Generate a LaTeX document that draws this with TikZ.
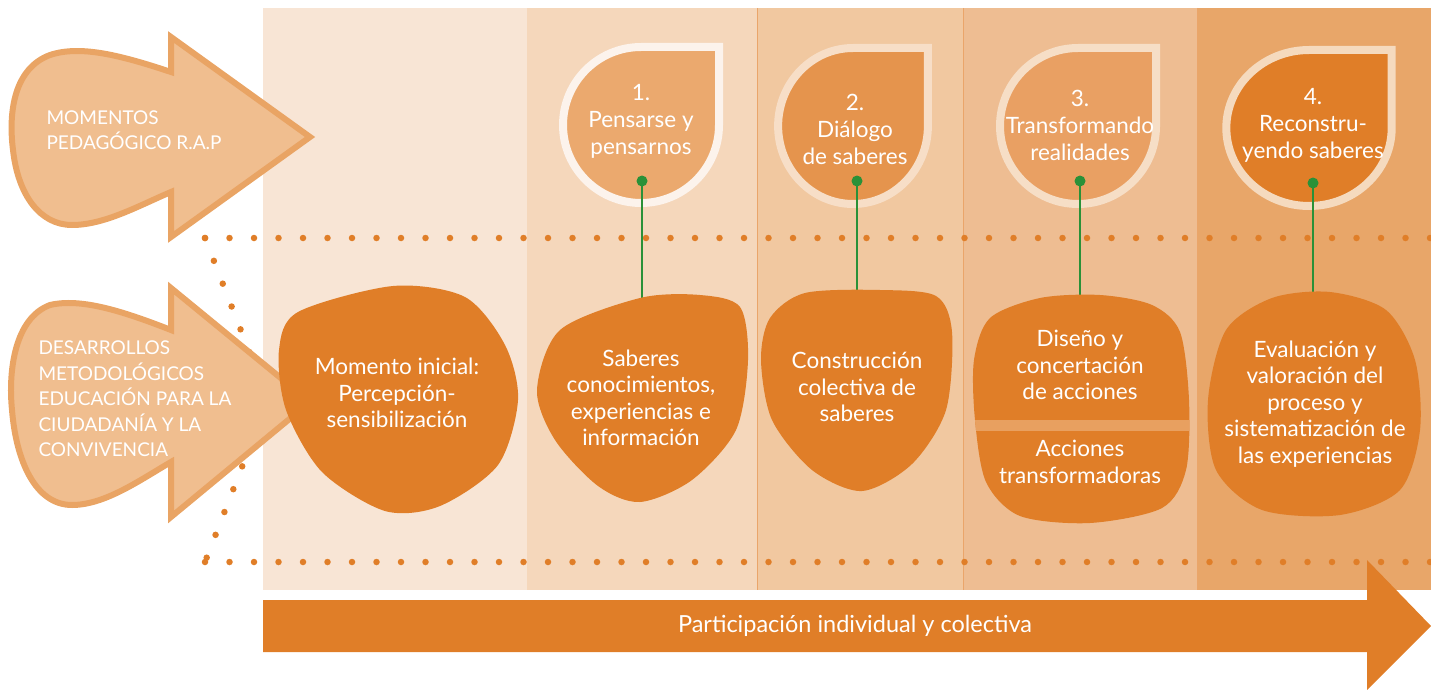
\documentclass[tikz,border=0pt]{standalone}
\usepackage{fontspec}
\setmainfont{Lato}
\usepackage{tikz}

\definecolor{panelA}{HTML}{F8E5D5}
\definecolor{panelB}{HTML}{F5D7BB}
\definecolor{panelC}{HTML}{F1C8A0}
\definecolor{panelD}{HTML}{EEBD92}
\definecolor{panelE}{HTML}{E8A669}
\definecolor{divline}{HTML}{EAA56A}
\definecolor{arrowfill}{HTML}{F0BE8F}
\definecolor{arrowline}{HTML}{E9A464}
\definecolor{blobor}{HTML}{E07E28}
\definecolor{bandcol}{HTML}{E8A060}
\definecolor{stemgreen}{HTML}{2A9138}
\definecolor{leafA}{HTML}{EBA96E}
\definecolor{leafB}{HTML}{E5944D}
\definecolor{leafC}{HTML}{E9A063}
\definecolor{leafD}{HTML}{E07E28}
\definecolor{rimA}{HTML}{FCF3EC}
\definecolor{rimB}{HTML}{F7DEC7}
\definecolor{rimC}{HTML}{F6DEC6}
\definecolor{rimD}{HTML}{F5DABE}

\tikzset{
	blob/.style = {fill=blobor},
	blobtext/.style = {text=white, align=center, font=\fontsize{22.5}{26.5}\selectfont},
	leaftext/.style = {text=white, align=center, font=\fontsize{22.5}{27}\selectfont},
	arrowtext/.style = {text=white, align=left, anchor=west, font=\fontsize{19}{25.5}\selectfont},
	bigarrow/.style = {fill=arrowfill, draw=arrowline, line width=6pt, line join=miter},
	dotline/.style = {draw=blobor, line width=6.5pt, line cap=round, dash pattern=on 0pt off 24.5pt},
	stem/.style = {draw=stemgreen, line width=2.5pt},
	pics/leaf/.style 2 args = {code={
		\filldraw[fill=#1, draw=#2, line width=8pt] (78,-78) -- (0,-78)
			.. controls (-43,-78) and (-78,-43) .. (-78,0)
			.. controls (-78,43) and (-43,78) .. (0,78)
			.. controls (43,78) and (78,43) .. (78,0) -- cycle;
	}}
}

\def\blobthree{plot[smooth cycle] coordinates {(990,318) (1040,298) (1100,295) (1152,305) (1180,332) (1189,400) (1186,470) (1162,508) (1090,523) (1020,516) (986,482) (975,420) (974,360)}}

\begin{document}
\begin{tikzpicture}[x=1pt, y=-1pt]
	\useasboundingbox (0,0) rectangle (1431,690);

	\fill[panelA] (263,8) rectangle (527,590);
	\fill[panelB] (527,8) rectangle (757,590);
	\fill[panelC] (757,8) rectangle (963,590);
	\fill[panelD] (963,8) rectangle (1197,590);
	\fill[panelE] (1197,8) rectangle (1431,590);
	\foreach \xx in {757,963,1197}
		\draw[divline, line width=0.8pt] (\xx,8) -- (\xx,590);

	\draw[dotline] (205,238) -- (1431,238);
	\draw[dotline] (205,562) -- (1431,562);
	\draw[dotline] (205,238) -- (268,400) -- (205,562);

	\filldraw[bigarrow] (171,72) .. controls (120,55) and (80,45) .. (50,55)
		.. controls (15,68) and (8,110) .. (13,150)
		.. controls (18,195) and (40,225) .. (72,225)
		.. controls (105,225) and (140,205) .. (171,192)
		-- (171,237) -- (310,137) -- (171,37) -- cycle;
	\node[arrowtext] (ar1) at (43,130) {MOMENTOS\\PEDAGÓGICO R.A.P};

	\filldraw[bigarrow] (171,330) .. controls (120,310) and (80,298) .. (50,305)
		.. controls (15,318) and (8,370) .. (12,410)
		.. controls (16,460) and (35,505) .. (72,505)
		.. controls (105,505) and (140,480) .. (171,462)
		-- (171,517) -- (310,402) -- (171,288) -- cycle;
	\node[arrowtext] (ar2) at (35,399) {DESARROLLOS\\METODOLÓGICOS\\EDUCACIÓN PARA LA\\CIUDADANÍA Y LA\\CONVIVENCIA};

	\pic at (641,125) {leaf={leafA}{rimA}};
	\pic[xscale=0.96] at (853,126) {leaf={leafB}{rimB}};
	\pic at (1078,126) {leaf={leafC}{rimC}};
	\pic[xscale=1.06] at (1309,128) {leaf={leafD}{rimD}};

	\node[leaftext] (m1) at (641,121) {1.\\Pensarse y\\pensarnos};
	\node[leaftext] (m2) at (855,129) {2.\\Diálogo\\de saberes};
	\node[leaftext] (m3) at (1080,125) {3.\\Transformando\\realidades};
	\node[leaftext] (m4) at (1313,125) {4.\\Reconstru-\\yendo saberes};

	\coordinate (d1) at (642,181);
	\coordinate (d2) at (857,181);
	\coordinate (d3) at (1080,181);
	\coordinate (d4) at (1313,183);
	\coordinate (t1) at (642,300);
	\coordinate (t2) at (857,295);
	\coordinate (t3) at (1080,300);
	\coordinate (t4) at (1313,296);
	\foreach \k in {1,2,3,4} {
		\draw[stem] (d\k) -- (t\k);
		\fill[stemgreen] (d\k) circle (5.5);
	}

	\fill[blob] plot[smooth cycle] coordinates {(298,312) (393,286) (465,297) (505,345) (518,400) (498,465) (440,506) (385,511) (322,472) (286,410) (279,350)};
	\node[blobtext] (b0) at (397,393) {Momento inicial:\\Percepción-\\sensibilización};

	\fill[blob] plot[smooth cycle] coordinates {(560,330) (640,298) (700,295) (740,307) (748,360) (736,430) (692,480) (640,502) (598,486) (555,440) (537,390)};
	\node[blobtext] (b1) at (641,398) {Saberes\\conocimientos,\\experiencias e\\información};

	\fill[blob] plot[smooth cycle] coordinates {(770,318) (805,293) (880,290) (936,296) (952,332) (946,410) (912,464) (862,491) (812,470) (772,420) (761,360)};
	\node[blobtext] (b2) at (857,387) {Construcción\\colectiva de\\saberes};

	\fill[blob] \blobthree;
	\begin{scope}
		\clip \blobthree;
		\fill[bandcol] (960,420) rectangle (1200,431);
	\end{scope}
	\node[blobtext] (b3a) at (1080,365) {Diseño y\\concertación\\de acciones};
	\node[blobtext] (b3b) at (1080,462) {Acciones\\transformadoras};

	\fill[blob] plot[smooth cycle] coordinates {(1226,330) (1272,298) (1330,292) (1386,310) (1415,360) (1420,430) (1400,490) (1340,515) (1262,510) (1216,470) (1208,400)};
	\node[blobtext] (b4) at (1315,404) {Evaluación y\\valoración del\\proceso y\\sistematización de\\las experiencias};

	\fill[blobor] (263,600) -- (1367,600) -- (1367,560) -- (1431,626) -- (1367,690) -- (1367,652) -- (263,652) -- cycle;
	\node[text=white, font=\fontsize{23.5}{27}\selectfont] (part) at (855,626) {Participación individual y colectiva};
\end{tikzpicture}
\end{document}
